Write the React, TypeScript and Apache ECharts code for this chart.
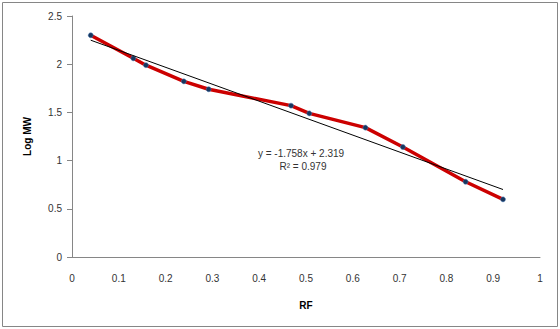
import React, { useEffect, useRef } from "react";
import * as echarts from "echarts";

const rf = [0.04, 0.131, 0.158, 0.239, 0.292, 0.468, 0.507, 0.627, 0.707, 0.841, 0.921];
const logMW = [2.3, 2.061, 1.99, 1.822, 1.74, 1.57, 1.49, 1.342, 1.141, 0.781, 0.598];
const trendX = [0.04, 0.921];
const trendY = [2.249, 0.7];
const equationText = "y = -1.758x + 2.319";
const r2Text = "R\u00B2 = 0.979";

export default function App() {
  const ref = useRef<HTMLDivElement>(null);
  useEffect(() => {
    if (!ref.current) return;
    const chart = echarts.init(ref.current, undefined, { renderer: "svg" });
    const font = "'Liberation Sans', Arial, sans-serif";
    chart.setOption({
      animation: false,
      backgroundColor: "#ffffff",
      textStyle: { fontFamily: font },
      grid: { left: 72, right: 20, top: 16, bottom: 72, containLabel: false },
      xAxis: {
        type: "value",
        min: 0,
        max: 1,
        interval: 0.1,
        name: "RF",
        nameLocation: "middle",
        nameGap: 43,
        nameTextStyle: { fontSize: 10, fontWeight: "bold", color: "#000", fontFamily: font },
        axisLine: { show: true, onZero: false, lineStyle: { color: "#868686", width: 1 } },
        axisTick: { show: false },
        splitLine: { show: false },
        axisLabel: { fontSize: 10, color: "#333", margin: 16, fontFamily: font },
      },
      yAxis: {
        type: "value",
        min: 0,
        max: 2.5,
        interval: 0.5,
        name: "Log MW",
        nameLocation: "middle",
        nameGap: 40,
        nameRotate: 90,
        nameTextStyle: { fontSize: 10, fontWeight: "bold", color: "#000", fontFamily: font },
        axisLine: { show: true, lineStyle: { color: "#868686", width: 1 } },
        axisTick: { show: true, length: 5, inside: false, lineStyle: { color: "#868686" } },
        splitLine: { show: false },
        axisLabel: { fontSize: 10, color: "#333", margin: 10, fontFamily: font },
      },
      series: [
        {
          type: "line",
          data: rf.map((x, i) => [x, logMW[i]]),
          symbol: "circle",
          symbolSize: 5,
          showSymbol: true,
          itemStyle: { color: "#17375e", borderColor: "#4f81bd", borderWidth: 0.5 },
          lineStyle: { color: "#cc0000", width: 3.5 },
          z: 2,
          silent: true,
        },
        {
          type: "line",
          data: trendX.map((x, i) => [x, trendY[i]]),
          symbol: "none",
          lineStyle: { color: "#000000", width: 1 },
          z: 3,
          silent: true,
        },
      ],
      graphic: [
        {
          type: "rect",
          shape: { x: 2.5, y: 2.5, width: 555, height: 324 },
          style: { fill: "none", stroke: "#868686", lineWidth: 1 },
          silent: true,
          z: -1,
        },
        {
          type: "text",
          x: 301,
          y: 153,
          style: { text: equationText, fontSize: 10, fill: "#333", fontFamily: font, align: "center", verticalAlign: "middle" },
        },
        {
          type: "text",
          x: 303,
          y: 166,
          style: { text: r2Text, fontSize: 10, fill: "#333", fontFamily: font, align: "center", verticalAlign: "middle" },
        },
      ],
    });
    return () => chart.dispose();
  }, []);
  return (
    <div
      ref={ref}
      style={{ position: "absolute", left: 0, top: 0, width: 560, height: 329 }}
    />
  );
}
